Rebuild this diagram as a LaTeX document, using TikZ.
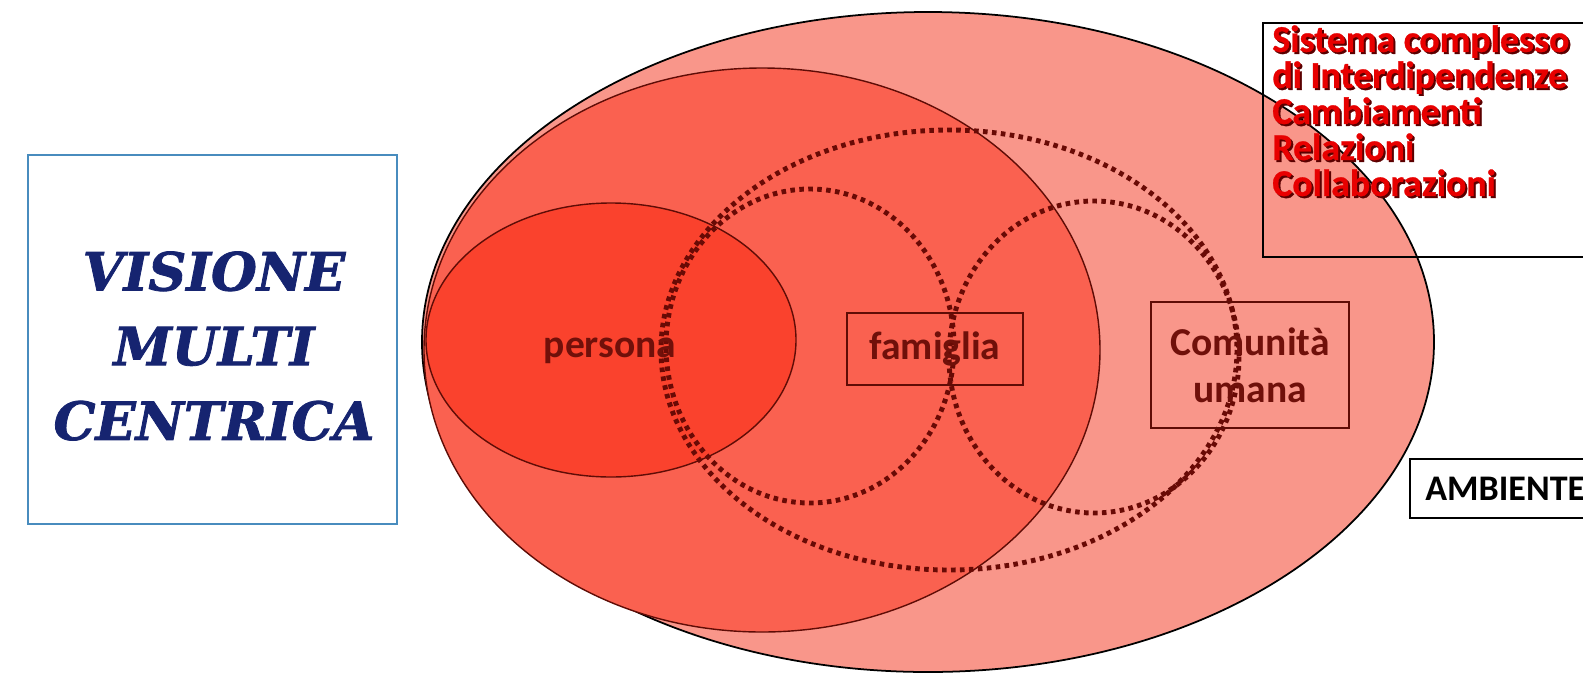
\documentclass[tikz,border=0pt]{standalone}
\usepackage{fontspec}
\setmainfont{Carlito}
\newfontfamily\slabfont[BoldItalicFeatures={FakeBold=1.5}]{DejaVu Serif}
\newfontfamily\listafont[BoldFeatures={FakeBold=0.8}]{Carlito}

\definecolor{ambiente}{RGB}{249,150,138}
\definecolor{comunita}{RGB}{250,97,80}
\definecolor{personarosso}{RGB}{250,66,45}
\definecolor{bordorosso}{RGB}{95,12,6}
\definecolor{puntirosso}{RGB}{105,10,5}
\definecolor{testorosso}{RGB}{112,16,10}
\definecolor{listarosso}{RGB}{232,0,0}
\definecolor{ombra}{RGB}{90,0,0}
\definecolor{bordoblu}{RGB}{72,140,190}
\definecolor{blunotte}{RGB}{22,36,112}

\begin{document}
\begin{tikzpicture}[x=0.02cm,y=-0.02cm,
  zona/.style={draw=bordorosso,line width=0.8pt},
  anello/.style={draw=puntirosso,line width=2.8pt,dash pattern=on 2.6pt off 2.5pt},
  etichetta/.style={draw=bordorosso,line width=0.9pt,text=testorosso,
    font=\fontsize{22.5}{26.5}\selectfont\bfseries,align=center},
  elenco/.style={anchor=north west,inner sep=0,align=left,
    font=\listafont\fontsize{21.5}{20.5}\selectfont\bfseries}]

\clip (0,0) rectangle (1583,677);

% titolo a sinistra
\node[draw=bordoblu,line width=1.2pt,minimum width=7.38cm,minimum height=7.38cm] (cornice) at (212.5,339.5) {};
\node[text=blunotte,align=center,font=\slabfont\fontsize{30}{42.5}\selectfont\bfseries\itshape] (visione) at (214,346) {VISIONE\\MULTI\\CENTRICA};

% ellissi
\draw[fill=ambiente,draw=black,line width=1pt] (928,342) ellipse [x radius=506,y radius=330];
\draw[zona,fill=comunita] (762,350) ellipse [x radius=338,y radius=282];
\draw[zona,fill=personarosso] (611,340) ellipse [x radius=185,y radius=137];

\draw[anello] (949,350) ellipse [x radius=288,y radius=220];
\draw[anello] (810,346) ellipse [x radius=144,y radius=157];
\draw[anello] (1094,357) ellipse [x radius=145,y radius=156];

% etichette
\node[text=testorosso,font=\fontsize{22.5}{26.5}\selectfont\bfseries] (persona) at (610,351) {persona};
\node[etichetta,minimum width=3.52cm,minimum height=1.44cm] (famiglia) at (935,349) {famiglia};
\node[etichetta,minimum width=3.96cm,minimum height=2.52cm] (umana) at (1250,365) {Comunità\\umana};

% riquadro in alto a destra
\draw[black,line width=1.1pt] (1263,23) rectangle (1620,257);
\node[elenco,text=ombra] (ombralista) at (1274,27) {Sistema complesso\\di Interdipendenze\\Cambiamenti\\Relazioni\\Collaborazioni};
\node[elenco,text=listarosso] (lista) at (1272,25) {Sistema complesso\\di Interdipendenze\\Cambiamenti\\Relazioni\\Collaborazioni};

% ambiente
\draw[black,line width=1.2pt] (1410,459) rectangle (1620,518);
\node[anchor=base west,inner sep=0,font=\fontsize{20.5}{24}\selectfont\bfseries] (ambiente) at (1425,500) {AMBIENTE};

\end{tikzpicture}
\end{document}
